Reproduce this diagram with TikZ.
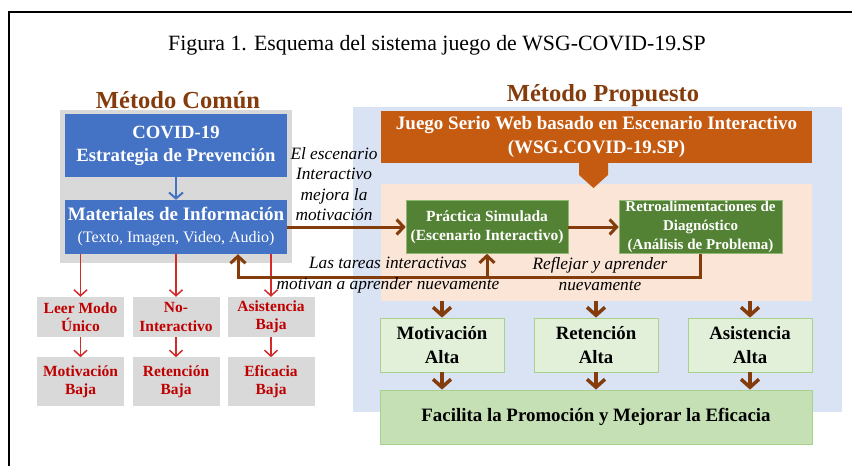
\documentclass[tikz,border=0pt]{standalone}
\usepackage{fontspec}
\setmainfont{Liberation Serif}
\usetikzlibrary{arrows.meta,positioning}
\definecolor{boxblue}{HTML}{4472C4}
\definecolor{graybg}{HTML}{D9D9D9}
\definecolor{brownline}{HTML}{843C0C}
\definecolor{orangebox}{HTML}{C55A11}
\definecolor{bluebg}{HTML}{DAE3F3}
\definecolor{peachbg}{HTML}{FBE5D6}
\definecolor{darkgreen}{HTML}{548235}
\definecolor{palegreen}{HTML}{E2F0D9}
\definecolor{midgreen}{HTML}{C5E0B4}
\definecolor{rimgreen}{HTML}{A9D18E}
\definecolor{redtext}{HTML}{C00000}
\definecolor{redline}{HTML}{D42A2A}

\begin{document}
\begin{tikzpicture}[
	x=1pt,y=-1pt,
	every text node part/.style={align=center},
	head/.style={text=brownline,font=\bfseries\fontsize{24.5}{28}\selectfont},
	bluebox/.style={fill=boxblue,text=white,inner sep=0,minimum width=222pt},
	redbox/.style={fill=graybg,text=redtext,inner sep=0,minimum width=87pt,minimum height=40pt,font=\bfseries\fontsize{15.5}{18.5}\selectfont},
	greenbox/.style={fill=darkgreen,draw=rimgreen!70!darkgreen,line width=0.6pt,text=white,inner sep=0,minimum width=162pt,minimum height=53pt,font=\bfseries\fontsize{15.5}{19}\selectfont},
	altabox/.style={fill=palegreen,draw=rimgreen,line width=0.8pt,inner sep=0,minimum width=124pt,minimum height=54pt,font=\bfseries\fontsize{18.8}{24}\selectfont},
	note/.style={font=\itshape\fontsize{17.3}{20.5}\selectfont,inner sep=0},
	brarrow/.style={draw=brownline,line width=3pt,-{Straight Barb[length=7pt,width=15pt]}},
	downarrow/.style={draw=brownline,line width=3.5pt,-{Straight Barb[length=8pt,width=18pt]}},
	redarrow/.style={draw=redline,line width=1.5pt,-{Straight Barb[length=6pt,width=13pt]}},
	bluearrow/.style={draw=boxblue,line width=2pt,-{Straight Barb[length=6pt,width=14pt]}},
]
\useasboundingbox (0,0) rectangle (852,466);
\draw[line width=1.5pt] (9,470) -- (9,12) -- (856,12);
\node[font=\fontsize{21.8}{26}\selectfont] (title) at (437,45) {Figura 1. Esquema del sistema juego de WSG-COVID-19.SP};

\fill[graybg] (60,110) rectangle (292,263);
\fill[bluebg] (353,107) rectangle (842,412);
\node[head] (comun) at (178,100) {Método Común};
\node[head] (propuesto) at (603,96) {Método Propuesto};

\node[bluebox,minimum height=63pt,font=\bfseries\fontsize{18.7}{23}\selectfont] (covid) at (176,145.5) {COVID-19\\Estrategia de Prevención};
\node[bluebox,minimum height=54pt,font=\bfseries\fontsize{19}{22}\selectfont] (mat) at (176,227) {Materiales de Información\\{\mdseries\fontsize{16}{22}\selectfont (Texto, Imagen, Video, Audio)}};
\draw[bluearrow] (covid) -- (mat);

\node[redbox] (leer) at (80.5,317) {Leer Modo\\Único};
\node[redbox] (noint) at (176,317) {No-\\Interactivo};
\node[redbox] (asisb) at (271,317) {Asistencia\\Baja};
\node[redbox,minimum height=49pt,below=20pt of leer] (motb) {Motivación\\Baja};
\node[redbox,minimum height=49pt,below=20pt of noint] (retb) {Retención\\Baja};
\node[redbox,minimum height=49pt,below=20pt of asisb] (efib) {Eficacia\\Baja};
\foreach \a/\b in {leer/motb,noint/retb,asisb/efib}{
	\draw[redarrow] (mat.south -| \a) -- (\a);
	\draw[redarrow] (\a) -- (\b);
}

\node[fill=peachbg,inner sep=0,minimum width=431pt,minimum height=117pt] (zone) at (596.5,242.5) {};
\node[fill=orangebox,text=white,inner sep=0,minimum width=431pt,minimum height=52pt,font=\bfseries\fontsize{19}{24}\selectfont] (juego) at (596.5,137) {Juego Serio Web basado en Escenario Interactivo\\(WSG.COVID-19.SP)};
\fill[orangebox] (579,162) -- (579,175) -- (593.5,188) -- (608,175) -- (608,162) -- cycle;

\node[greenbox] (prac) at (487,227) {Práctica Simulada\\(Escenario Interactivo)};
\node[greenbox,minimum width=163pt,font=\bfseries\fontsize{15}{19}\selectfont] (retro) at (700.5,227) {Retroalimentaciones de\\Diagnóstico\\(Análisis de Problema)};

\node[note] (mejora) at (334,184) {El escenario\\Interactivo\\mejora la\\motivación};
\draw[brarrow] (mat) -- (prac);
\draw[brarrow] (prac) -- (retro);
\coordinate (loop) at (238,277);
\draw[brarrow] (retro.south) |- (loop) -- (loop |- mat.south);
\draw[brarrow] (prac |- loop) -- (prac);
\node[note] (tareas) at (388,275) {Las tareas interactivas\\motivan a aprender nuevamente};
\node[note] (reflejar) at (600,274) {Reflejar y aprender\\nuevamente};

\node[altabox] (mota) at (442,345) {Motivación\\Alta};
\node[altabox] (reta) at (596,345) {Retención\\Alta};
\node[altabox] (asia) at (750,345) {Asistencia\\Alta};
\node[fill=midgreen,draw=rimgreen,line width=0.8pt,inner sep=0,minimum width=432pt,minimum height=54pt,font=\bfseries\fontsize{18.9}{22}\selectfont] (facil) at (596,417) {Facilita la Promoción y Mejorar la Eficacia};
\foreach \n in {mota,reta,asia}{
	\draw[downarrow] (zone.south -| \n) -- (\n);
	\draw[downarrow] (\n) -- (\n |- facil.north);
}
\end{tikzpicture}
\end{document}
